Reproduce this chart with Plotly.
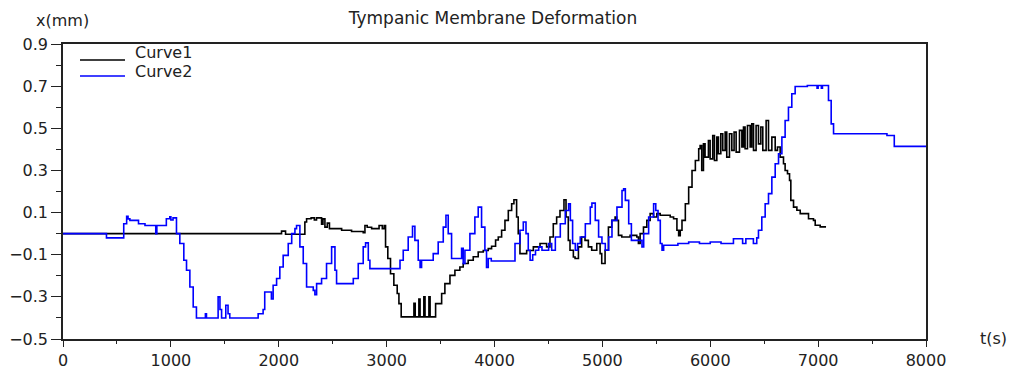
import plotly.graph_objects as go

# Curve 1 (black)
t1 = [0, 2026, 2063, 2242, 2258, 2300, 2330, 2350, 2397, 2410, 2428, 2450, 2470, 2583, 2675, 2783, 2799, 2820,
      2861, 2930, 2960, 2978, 2990, 3011, 3036, 3067, 3098, 3114, 3135, 3253, 3265, 3299, 3310, 3345, 3356,
      3392, 3403, 3454, 3510, 3540, 3587, 3633, 3679, 3710, 3756, 3803, 3849, 3896, 3942, 3973, 4010, 4035,
      4066, 4097, 4128, 4159, 4180, 4205, 4220, 4236, 4298, 4360, 4422, 4483, 4514, 4545, 4576, 4607, 4644,
      4663, 4684, 4700, 4731, 4747, 4778, 4808, 4839, 4870, 4901, 4948, 4979, 4994, 5025, 5056, 5087, 5118,
      5133, 5149, 5180, 5257, 5319, 5334, 5350, 5381, 5412, 5443, 5474, 5505, 5536, 5629, 5660, 5691, 5707,
      5722, 5738, 5769, 5800, 5831, 5862, 5893, 5906, 5921, 5937, 5952, 5983, 5999, 6023, 6039, 6061, 6076,
      6098, 6116, 6138, 6153, 6178, 6200, 6221, 6240, 6271, 6293, 6308, 6323, 6345, 6370, 6385, 6401, 6425,
      6447, 6469, 6487, 6518, 6540, 6571, 6602, 6623, 6648, 6679, 6694, 6716, 6735, 6747, 6772, 6803, 6834,
      6896, 6911, 6957, 6973, 7019, 7066]
x1 = [0.0, 0.012, -0.003, 0.055, 0.071, 0.075, 0.065, 0.075, 0.045, 0.07, 0.031, 0.05, 0.024, 0.016, 0.010,
      0.005, 0.039, 0.03, 0.024, 0.039, 0.024, 0.039, -0.063, -0.118, -0.19, -0.245, -0.284, -0.332, -0.395,
      -0.33, -0.395, -0.31, -0.395, -0.30, -0.395, -0.30, -0.395, -0.332, -0.284, -0.237, -0.198, -0.174,
      -0.158, -0.142, -0.126, -0.11, -0.087, -0.08, -0.071, -0.06, -0.03, -0.016, 0.016, 0.063, 0.11, 0.142,
      0.161, 0.079, 0.0, -0.095, -0.08, -0.063, -0.047, -0.063, -0.016, 0.047, 0.079, 0.11, 0.161, 0.079,
      -0.032, -0.079, -0.111, -0.118, -0.063, -0.016, -0.032, -0.063, -0.079, -0.047, -0.095, -0.142, -0.079,
      0.031, 0.063, 0.079, 0.063, -0.008, -0.016, -0.008, -0.016, -0.047, 0.0, 0.031, 0.063, 0.095, 0.079,
      0.095, 0.087, 0.079, 0.071, 0.016, -0.01, 0.016, 0.063, 0.142, 0.221, 0.30, 0.347, 0.403, 0.418, 0.30,
      0.426, 0.363, 0.442, 0.355, 0.466, 0.347, 0.458, 0.379, 0.474, 0.395, 0.482, 0.363, 0.474, 0.395,
      0.482, 0.387, 0.490, 0.411, 0.506, 0.403, 0.513, 0.411, 0.521, 0.395, 0.513, 0.426, 0.506, 0.395,
      0.537, 0.395, 0.458, 0.395, 0.411, 0.363, 0.332, 0.30, 0.284, 0.253, 0.158, 0.126, 0.111, 0.095,
      0.095, 0.071, 0.063, 0.040, 0.032, 0.028]

# Curve 2 (blue)
t2 = [0, 403, 563, 590, 603, 620, 700, 760, 860, 870, 958, 990, 1000, 1020, 1052, 1083, 1120, 1145, 1176,
      1207, 1237, 1320, 1330, 1423, 1438, 1455, 1470, 1509, 1530, 1546, 1809, 1855, 1870, 1932, 1948, 1980,
      2010, 2041, 2088, 2120, 2150, 2165, 2196, 2227, 2258, 2320, 2335, 2351, 2397, 2443, 2490, 2521, 2536,
      2675, 2691, 2737, 2783, 2805, 2830, 2845, 3108, 3124, 3154, 3200, 3240, 3262, 3293, 3310, 3324, 3386,
      3432, 3478, 3525, 3550, 3571, 3602, 3679, 3695, 3710, 3726, 3772, 3818, 3849, 3880, 3911, 3926, 3942,
      3970, 4190, 4236, 4267, 4292, 4313, 4330, 4354, 4380, 4410, 4440, 4502, 4530, 4564, 4610, 4656, 4687,
      4703, 4724, 4749, 4770, 4795, 4842, 4888, 4903, 4934, 4965, 4996, 5027, 5058, 5089, 5135, 5182, 5197,
      5213, 5244, 5269, 5352, 5367, 5383, 5429, 5475, 5495, 5516, 5537, 5553, 5568, 5700, 5800, 5900, 6000,
      6100, 6215, 6300, 6330, 6400, 6431, 6447, 6478, 6509, 6540, 6571, 6602, 6633, 6664, 6694, 6725, 6756,
      6787, 6900, 6990, 7000, 7030, 7040, 7096, 7121, 7143, 7638, 7706, 8000]
x2 = [0.0, -0.02, 0.047, 0.082, 0.07, 0.063, 0.047, 0.039, 0.0, 0.039, 0.071, 0.08, 0.065, 0.075, 0.0,
      -0.047, -0.126, -0.174, -0.253, -0.348, -0.40, -0.38, -0.40, -0.40, -0.30, -0.36, -0.40, -0.34, -0.38,
      -0.40, -0.38, -0.36, -0.277, -0.31, -0.245, -0.213, -0.158, -0.103, -0.047, 0.0, 0.024, 0.039, -0.063,
      -0.142, -0.253, -0.269, -0.29, -0.237, -0.213, -0.142, -0.063, -0.174, -0.237, -0.237, -0.213, -0.142,
      -0.063, -0.044, -0.126, -0.166, -0.166, -0.126, -0.079, -0.016, 0.035, -0.032, -0.126, -0.16, -0.126,
      -0.126, -0.095, -0.04, 0.031, 0.087, 0.0, -0.118, -0.118, -0.07, -0.142, -0.079, 0.0, 0.079, 0.126,
      0.031, -0.079, -0.16, -0.118, -0.13, -0.047, 0.016, 0.055, 0.0, -0.079, -0.126, -0.1, -0.079, -0.063,
      -0.079, -0.047, -0.079, -0.016, 0.047, 0.11, 0.142, 0.063, -0.047, -0.079, -0.047, -0.016, 0.047,
      0.126, 0.145, 0.063, -0.016, -0.047, -0.079, -0.016, 0.063, 0.126, 0.205, 0.213, 0.158, 0.047, -0.032,
      -0.032, -0.063, 0.0, 0.079, 0.142, 0.11, 0.063, -0.047, -0.079, -0.055, -0.047, -0.04, -0.047, -0.04,
      -0.047, -0.024, -0.047, -0.024, -0.047, -0.02, 0.016, 0.079, 0.142, 0.19, 0.268, 0.332, 0.379, 0.458,
      0.537, 0.60, 0.664, 0.698, 0.703, 0.69, 0.703, 0.69, 0.703, 0.632, 0.521, 0.474, 0.466, 0.414, 0.414]

series_names = ["Curve1", "Curve2"]
series_colors = ["#000000", "#0000ff"]

x_ticks = [0, 1000, 2000, 3000, 4000, 5000, 6000, 7000, 8000]
y_ticks = [-0.5, -0.3, -0.1, 0.1, 0.3, 0.5, 0.7, 0.9]
y_tick_text = ["\u22120.5", "\u22120.3", "\u22120.1", "0.1", "0.3", "0.5", "0.7", "0.9"]

FONT = "DejaVu Sans"
TXT = "#222222"

# plot area in pixels (for converting layout positions to paper coords)
L, R, T, B, W, H = 63, 91, 44, 30, 1017, 369
PW, PH = W - L - R, H - T - B


def px(x):
    return (x - L) / PW


def py(y):
    return (H - B - y) / PH


fig = go.Figure()
for tt, xx, nm, col in zip([t1, t2], [x1, x2], series_names, series_colors):
    fig.add_trace(go.Scatter(x=tt, y=xx, mode="lines", name=nm, showlegend=False,
                             line=dict(color=col, width=1.6, shape="hv")))

axis_common = dict(showgrid=False, zeroline=False, showline=True, linecolor=TXT, linewidth=1.5,
                   mirror=True, ticks="outside", tickcolor=TXT, tickwidth=1.3, automargin=False,
                   tickfont=dict(family=FONT, size=16, color=TXT))

fig.update_xaxes(range=[0, 8000], tickvals=x_ticks, ticklen=6,
                 minor=dict(dtick=500, ticks="outside", ticklen=3, tickcolor=TXT, tickwidth=1.3),
                 **axis_common)
fig.update_yaxes(range=[-0.5, 0.9], tickvals=y_ticks, ticktext=y_tick_text, ticklen=10,
                 minor=dict(dtick=0.1, tick0=-0.5, ticks="outside", ticklen=5, tickcolor=TXT, tickwidth=1.3),
                 **axis_common)

# legend drawn inside the plot (top-left)
shapes = []
annotations = []
leg_line_y = [60, 76]
leg_text_y = [53, 71]
for nm, col, ly, ty in zip(series_names, series_colors, leg_line_y, leg_text_y):
    shapes.append(dict(type="line", xref="paper", yref="paper", x0=px(80), x1=px(125), y0=py(ly), y1=py(ly),
                       line=dict(color=col, width=1.6)))
    annotations.append(dict(text=nm, xref="paper", yref="paper", x=px(133), y=py(ty), xanchor="left",
                            yanchor="middle", showarrow=False, font=dict(family=FONT, size=16, color=TXT)))

annotations += [
    dict(text="x(mm)", xref="paper", yref="paper", x=px(62), y=py(21),
         xanchor="center", yanchor="middle", showarrow=False, font=dict(family=FONT, size=16, color=TXT)),
    dict(text="t(s)", xref="paper", yref="paper", x=px(993), y=py(338),
         xanchor="center", yanchor="middle", showarrow=False, font=dict(family=FONT, size=16, color=TXT)),
]

fig.update_layout(
    width=W, height=H,
    margin=dict(l=L, r=R, t=T, b=B, autoexpand=False),
    paper_bgcolor="white", plot_bgcolor="white",
    font=dict(family=FONT, size=16, color=TXT),
    showlegend=False,
    title=dict(text="Tympanic Membrane Deformation", x=px(493), xref="paper", y=1 - 18 / H,
               yref="container", xanchor="center", yanchor="middle",
               font=dict(family=FONT, size=17, color=TXT)),
    shapes=shapes,
    annotations=annotations,
)

fig.write_html("out.html")
